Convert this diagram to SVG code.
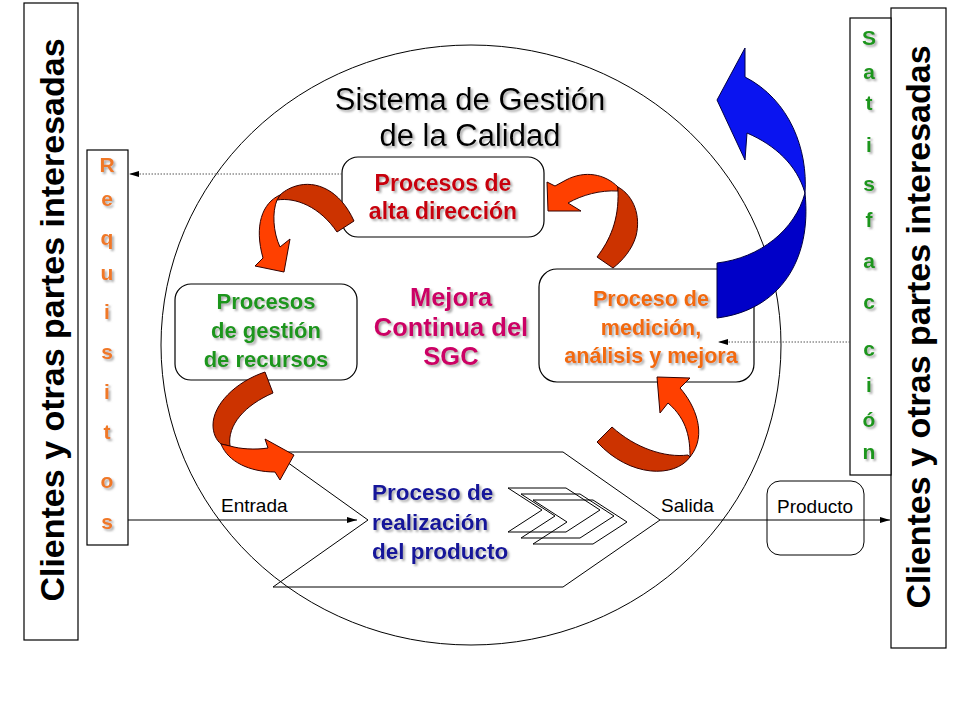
<svg xmlns="http://www.w3.org/2000/svg" width="960" height="720" viewBox="0 0 960 720">
<defs>
<style>
text{font-family:"Liberation Sans",Arial,Helvetica,sans-serif}
.b{font-weight:bold}
.box{fill:#fff;stroke:#000;stroke-width:1.2}
.nofill{fill:none;stroke:#000;stroke-width:1}
.dk{fill:#CC3300;stroke:#330000;stroke-width:1}
.lt{fill:#FF4000;stroke:#330000;stroke-width:1}
.sh{filter:url(#shadow)}
.req{font-weight:bold;font-size:21px;fill:#F07828;text-anchor:middle}
.sat{font-weight:bold;font-size:21px;fill:#1E961E;text-anchor:middle}
.dot{stroke:#555;stroke-width:1;stroke-dasharray:1.5,1.5;fill:none}
</style>
<filter id="shadow" x="-10%" y="-20%" width="130%" height="160%">
<feDropShadow dx="2" dy="2" stdDeviation="1.2" flood-color="#777" flood-opacity="0.6"/>
</filter>
<marker id="ah" markerWidth="10" markerHeight="8" refX="10" refY="4" orient="auto" markerUnits="userSpaceOnUse">
<path d="M0,1 L10,4 L0,7 Z" fill="#000"/>
</marker>
</defs>
<rect width="960" height="720" fill="#fff"/>

<ellipse id="system" cx="471" cy="345" rx="310" ry="300" class="nofill"/>

<g id="title" class="sh">
<text x="470" y="110" font-size="31" text-anchor="middle" fill="#000">Sistema de Gestión</text>
<text x="470" y="146" font-size="31" text-anchor="middle" fill="#000">de la Calidad</text>
</g>

<g id="clientes-left">
<rect x="24" y="3" width="54" height="637" class="box"/>
<text transform="translate(64,320) rotate(-90)" class="b" font-size="34" text-anchor="middle" fill="#000">Clientes y otras partes interesadas</text>
</g>

<g id="clientes-right">
<rect x="891" y="8" width="55" height="640" class="box"/>
<text transform="translate(930,327) rotate(-90)" class="b" font-size="34" text-anchor="middle" fill="#000">Clientes y otras partes interesadas</text>
</g>

<g id="requisitos">
<rect x="87" y="150" width="41" height="395" class="box"/>
<g class="sh">
<text x="107" y="172" class="req">R</text>
<text x="107" y="206" class="req">e</text>
<text x="107" y="245" class="req">q</text>
<text x="107" y="280" class="req">u</text>
<text x="107" y="319" class="req">i</text>
<text x="107" y="359" class="req">s</text>
<text x="107" y="399" class="req">i</text>
<text x="107" y="439" class="req">t</text>
<text x="107" y="488" class="req">o</text>
<text x="107" y="529" class="req">s</text>
</g>
</g>

<g id="satisfaccion">
<rect x="850" y="18" width="41" height="457" class="box"/>
<g class="sh">
<text x="869" y="45" class="sat">S</text>
<text x="869" y="79" class="sat">a</text>
<text x="869" y="110" class="sat">t</text>
<text x="869" y="152" class="sat">i</text>
<text x="869" y="191" class="sat">s</text>
<text x="869" y="227" class="sat">f</text>
<text x="869" y="268" class="sat">a</text>
<text x="869" y="309" class="sat">c</text>
<text x="869" y="356" class="sat">c</text>
<text x="869" y="392" class="sat">i</text>
<text x="869" y="427" class="sat">ó</text>
<text x="869" y="459" class="sat">n</text>
</g>
</g>

<g id="alta-direccion">
<rect x="342" y="157" width="202" height="80" rx="16" class="box"/>
<g class="sh b" font-size="23" text-anchor="middle" fill="#C8000A">
<text x="443" y="191">Procesos de</text>
<text x="443" y="219">alta dirección</text>
</g>
</g>

<g id="gestion-recursos">
<rect x="175" y="284" width="182" height="96" rx="16" class="box"/>
<g class="sh b" font-size="22" text-anchor="middle" fill="#1E961E">
<text x="266" y="309">Procesos</text>
<text x="266" y="338">de gestión</text>
<text x="266" y="367">de recursos</text>
</g>
</g>

<g id="medicion">
<rect x="539" y="269" width="215" height="113" rx="18" class="box"/>
<g class="sh b" font-size="21.5" text-anchor="middle" fill="#F26A10">
<text x="651" y="306">Proceso de</text>
<text x="651" y="335">medición,</text>
<text x="651" y="363">análisis y mejora</text>
</g>
</g>

<g id="mejora" class="sh b" font-size="25.5" text-anchor="middle" fill="#CC0066">
<text x="451" y="306">Mejora</text>
<text x="451" y="336">Continua del</text>
<text x="451" y="365">SGC</text>
</g>

<g id="realizacion">
<polygon points="273,452 563,452 660,520 563,587 273,587 368,520" class="nofill"/>
<polygon points="508,488 566,488 600,510 566,532 508,532 542,510" class="nofill"/>
<polygon points="521,494 580,494 614,516 580,538 521,538 555,516" class="nofill"/>
<polygon points="533,500 593,500 627,522 593,544 533,544 567,522" class="nofill"/>
<g class="sh b" font-size="22.5" fill="#14149A">
<text x="372" y="500">Proceso de</text>
<text x="372" y="530">realización</text>
<text x="372" y="559">del producto</text>
</g>
</g>

<g id="producto">
<rect x="767" y="481" width="97" height="74" rx="13" class="nofill"/>
<text x="777" y="513" font-size="19" fill="#000">Producto</text>
</g>

<g id="connectors">
<line x1="128" y1="520" x2="357" y2="520" stroke="#000" stroke-width="1" marker-end="url(#ah)"/>
<text x="221" y="512" font-size="19" fill="#000">Entrada</text>
<line x1="660" y1="520" x2="890" y2="520" stroke="#000" stroke-width="1" marker-end="url(#ah)"/>
<text x="661" y="512" font-size="19" fill="#000">Salida</text>
<line x1="342" y1="174" x2="129" y2="174" class="dot" marker-end="url(#ah)"/>
<line x1="850" y1="342" x2="718" y2="342" class="dot" marker-end="url(#ah)"/>
</g>

<g id="cycle-arrows">
<path class="dk" d="M354,221 C340,190 316,180 296,186 C289,188 283,192 280,195 L277,200 C296,197 320,207 337,232 Z"/>
<path class="lt" d="M280,195 C262,203 254,226 263,258 L255,266 L284,272 L290,239 L280,247 C273,232 272,212 277,200 Z"/>
<path class="lt" d="M618,187 C605,174 585,170 566,180 L555,186 L547,182 L548,211 L581,211 L568,203 C582,195 600,190 618,191 Z"/>
<path class="dk" d="M618,187 C634,196 641,216 636,236 C632,250 622,261 613,268 L597,257 C610,240 619,220 618,191 Z"/>
<path class="dk" d="M265,372 C235,382 213,405 213,425 C213,433 216,440 221,444 L230,446 C227,425 245,405 273,393 Z"/>
<path class="lt" d="M221,444 C228,462 250,472 275,472 L280,480 L294,455 L265,439 L268,448 C255,450 240,449 230,446 Z"/>
<path class="lt" d="M657,377 L690,378 L680,388 C695,405 708,435 690,457 C690,440 688,420 668,403 L660,413 Z"/>
<path class="dk" d="M690,457 C675,478 630,478 597,442 L612,427 C635,448 665,458 688,455 Z"/>
</g>

<g id="satisfaction-arrow">
<path d="M745,48 L717,100 L745,160 L747,133 C775,145 797,165 805,193 C808,150 790,100 745,77 Z" fill="#0A14F0" stroke="#000044" stroke-width="1"/>
<path d="M805,193 C812,260 780,310 717,318 L717,263 C760,258 795,230 805,193 Z" fill="#0000C8" stroke="#000044" stroke-width="1"/>
</g>
</svg>
